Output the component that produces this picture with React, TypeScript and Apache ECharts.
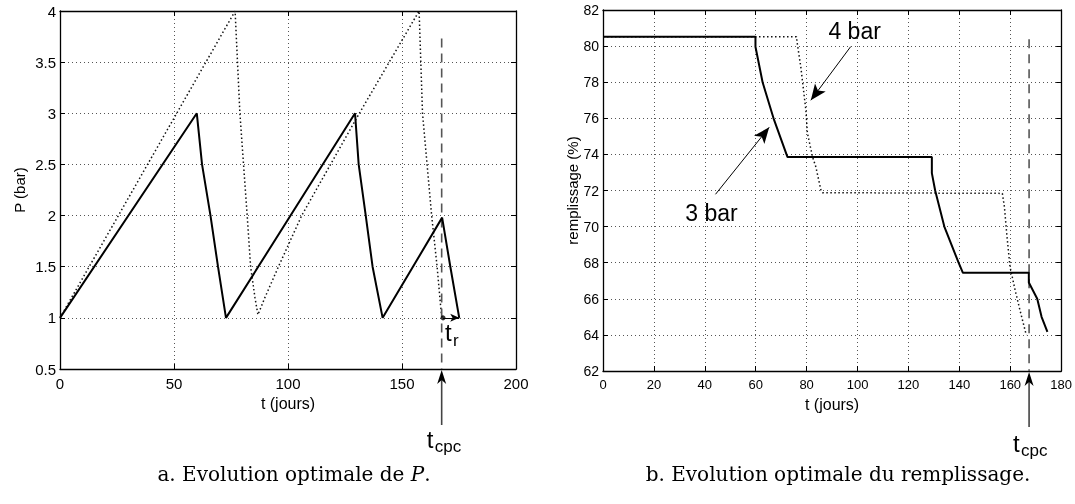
import React, { useEffect, useRef } from 'react';
import * as echarts from 'echarts';

// ---- Data ----
const T_CPC = 167.4;

// Left plot: pressure P (bar) vs t (jours)
const pSolidT = [0, 60, 62.3, 66, 69.3, 72.8, 129.4, 131, 134.1, 137.1, 141.5, 167.6, 171.2, 175.1];
const pSolidV = [1, 3, 2.5, 2, 1.5, 1, 3, 2.5, 2, 1.5, 1, 1.98, 1.5, 1];
const pDotT = [0, 76.8, 78.9, 82.1, 83.6, 85.5, 86.8, 89.9, 95.8, 106, 131.3, 157.5, 159, 163, 165.4, 167, 167.5];
const pDotV = [1, 4, 3, 2, 1.5, 1.2, 1.03, 1.2, 1.5, 2, 3, 4, 3, 2, 1.5, 1.1, 1.0];
const pDashT = [T_CPC, T_CPC];
const pDashV = [3.73, 0.5];

// Right plot: remplissage (%) vs t (jours)
const rSolidT = [0, 59.9, 59.9, 62.7, 67, 72.1, 72.5, 129.2, 129.2, 130.5, 134.1, 139.7, 141.4, 167.3, 167.3, 170.6, 172.3, 174.6];
const rSolidV = [80.52, 80.52, 79.96, 78, 76, 74, 73.85, 73.85, 72.96, 72, 70, 68, 67.44, 67.44, 66.9, 66, 65, 64.17];
const rDotT = [0, 76, 76.3, 77.7, 79.7, 80.3, 82.3, 83.6, 85.6, 86.2, 156.9, 157.7, 158.6, 159.9, 161.9, 163.8, 165.8, 166.3];
const rDotV = [80.52, 80.52, 80.17, 78.86, 76.46, 75.19, 73.87, 73.32, 72.03, 71.88, 71.84, 71.1, 69.63, 67.78, 66.49, 65.38, 64.27, 63.99];
const rDashT = [T_CPC, T_CPC];
const rDashV = [80.38, 62];

// Annotation arrows [fromT, fromV, toT, toV]
const arrow4bar = [97.3, 79.97, 81.65, 77.0];
const arrow3bar = [44.2, 71.79, 65.3, 75.5];
const arrowTr = [168.0, 1.0, 175.1, 1.0];

const zip = (a: number[], b: number[]) => a.map((v, i) => [v, b[i]]);

const FONT = 'Liberation Sans, Arial, Helvetica, sans-serif';
const SERIF = 'DejaVu Serif, serif';

export default function App() {
  const ref = useRef<HTMLDivElement>(null);
  useEffect(() => {
    document.body.style.margin = '0';
    const chart = echarts.init(ref.current!, null, { renderer: 'svg' });
    const split = { show: true, lineStyle: { type: [1, 3], color: '#555', width: 1 } };
    const axLine = { show: true, onZero: false, lineStyle: { color: '#000', width: 1.3 } };
    const tick = (inside = true) => ({ show: true, inside, length: 5, lineStyle: { color: '#000', width: 1 } });

    const mkX = (grid: number, min: number, max: number, interval: number, fs: number, gap: number) => [
      {
        type: 'value', gridIndex: grid, min, max, interval, position: 'bottom',
        axisLine: axLine, axisTick: tick(), splitLine: split,
        axisLabel: { color: '#000', fontFamily: FONT, fontSize: fs, margin: 7 },
        name: 't (jours)', nameLocation: 'middle', nameGap: gap,
        nameTextStyle: { color: '#000', fontFamily: FONT, fontSize: 16 },
      },
      {
        type: 'value', gridIndex: grid, min, max, interval, position: 'top',
        axisLine: axLine, axisTick: tick(), splitLine: { show: false }, axisLabel: { show: false },
      },
    ];
    const mkY = (grid: number, min: number, max: number, interval: number, fs: number, name: string, gap: number) => [
      {
        type: 'value', gridIndex: grid, min, max, interval, position: 'left',
        axisLine: axLine, axisTick: tick(), splitLine: split,
        axisLabel: { color: '#000', fontFamily: FONT, fontSize: fs, margin: 4 },
        name, nameLocation: 'middle', nameGap: gap,
        nameTextStyle: { color: '#000', fontFamily: FONT, fontSize: 15 },
      },
      {
        type: 'value', gridIndex: grid, min, max, interval, position: 'right',
        axisLine: axLine, axisTick: tick(), splitLine: { show: false }, axisLabel: { show: false },
      },
    ];

    const arrowML = (arr: number[], size: number[]) => ({
      silent: true,
      symbol: ['none', 'arrow'],
      symbolSize: size,
      label: { show: false },
      lineStyle: { color: '#000', width: 1, type: 'solid' },
      emphasis: { disabled: true },
      data: [[{ coord: [arr[0], arr[1]] }, { coord: [arr[2], arr[3]] }]],
    });

    const solid = { color: '#000', width: 2 };
    const dotted = { color: '#111', width: 1.5, type: [1.5, 2.5] };
    const dashed = { color: '#555', width: 1.6, type: [9, 6] };

    chart.setOption({
      animation: false,
      grid: [
        { left: 60, top: 11, width: 456, height: 358 },
        { left: 603, top: 10, width: 460, height: 361 },
      ],
      xAxis: [...mkX(0, 0, 200, 50, 15, 26), ...mkX(1, 0, 180, 20, 13, 25)],
      yAxis: [...mkY(0, 0.5, 4, 0.5, 15, 'P (bar)', 33), ...mkY(1, 62, 82, 2, 14, 'remplissage (%)', 23)],
      series: [
        {
          type: 'line', xAxisIndex: 0, yAxisIndex: 0, data: zip(pSolidT, pSolidV),
          showSymbol: false, symbol: 'none', lineStyle: solid, itemStyle: { color: '#000' }, z: 5,
          markLine: arrowML(arrowTr, [6, 9]),
        },
        {
          type: 'line', xAxisIndex: 0, yAxisIndex: 0, data: zip(pDotT, pDotV),
          showSymbol: false, symbol: 'none', lineStyle: dotted, itemStyle: { color: '#111' }, z: 3,
        },
        {
          type: 'line', xAxisIndex: 0, yAxisIndex: 0, data: zip(pDashT, pDashV),
          showSymbol: false, symbol: 'none', lineStyle: dashed, itemStyle: { color: '#555' }, z: 4,
        },
        {
          type: 'scatter', xAxisIndex: 0, yAxisIndex: 0, data: [[arrowTr[0], arrowTr[1]]],
          symbolSize: 5, itemStyle: { color: '#000' }, z: 6,
        },
        {
          type: 'line', xAxisIndex: 2, yAxisIndex: 2, data: zip(rSolidT, rSolidV),
          showSymbol: false, symbol: 'none', lineStyle: solid, itemStyle: { color: '#000' }, z: 5,
          markLine: {
            ...arrowML(arrow4bar, [10, 16]),
            data: [
              [{ coord: [arrow4bar[0], arrow4bar[1]] }, { coord: [arrow4bar[2], arrow4bar[3]] }],
              [{ coord: [arrow3bar[0], arrow3bar[1]] }, { coord: [arrow3bar[2], arrow3bar[3]] }],
            ],
          },
        },
        {
          type: 'line', xAxisIndex: 2, yAxisIndex: 2, data: zip(rDotT, rDotV),
          showSymbol: false, symbol: 'none', lineStyle: dotted, itemStyle: { color: '#111' }, z: 3,
        },
        {
          type: 'line', xAxisIndex: 2, yAxisIndex: 2, data: zip(rDashT, rDashV),
          showSymbol: false, symbol: 'none', lineStyle: dashed, itemStyle: { color: '#555' }, z: 4,
        },
      ],
    });

    const pa = chart.convertToPixel({ seriesIndex: 0 }, [T_CPC, 0.5]) as number[];
    const pb = chart.convertToPixel({ seriesIndex: 4 }, [T_CPC, 62]) as number[];
    const pr = chart.convertToPixel({ seriesIndex: 0 }, [arrowTr[0], arrowTr[1]]) as number[];
    const p4 = chart.convertToPixel({ seriesIndex: 4 }, [arrow4bar[0], arrow4bar[1]]) as number[];
    const p3 = chart.convertToPixel({ seriesIndex: 4 }, [arrow3bar[0], arrow3bar[1]]) as number[];

    const upArrow = (x: number, y: number) => [
      { type: 'line', shape: { x1: x, y1: y + 10, x2: x, y2: y + 56 }, style: { stroke: '#444', lineWidth: 1.6 } },
      {
        type: 'polygon',
        shape: { points: [[x, y + 1], [x - 4.5, y + 15], [x, y + 11], [x + 4.5, y + 15]] },
        style: { fill: '#000' },
      },
    ];
    const tSub = (x: number, yT: number, yS: number, sub: string) => [
      { type: 'text', x, y: yT, style: { text: 't', fontFamily: FONT, fontSize: 24, fill: '#000', align: 'left', verticalAlign: 'top' } },
      { type: 'text', x: x + 8, y: yS, style: { text: sub, fontFamily: FONT, fontSize: 17, fill: '#000', align: 'left', verticalAlign: 'top' } },
    ];

    chart.setOption({
      graphic: [
        ...upArrow(pa[0], pa[1]),
        ...upArrow(pb[0], pb[1]),
        ...tSub(pa[0] - 15, pa[1] + 58, pa[1] + 69, 'cpc'),
        ...tSub(pb[0] - 16, pb[1] + 60, pb[1] + 71, 'cpc'),
        ...tSub(pr[0] + 2, pr[1] + 3, pr[1] + 14, 'r'),
        {
          type: 'text', x: p4[0] + 4, y: p4[1] - 16,
          style: { text: '4 bar', fontFamily: FONT, fontSize: 23, fill: '#000', align: 'center', verticalAlign: 'middle' },
        },
        {
          type: 'text', x: p3[0] - 4, y: p3[1] + 19,
          style: { text: '3 bar', fontFamily: FONT, fontSize: 23, fill: '#000', align: 'center', verticalAlign: 'middle' },
        },
        {
          type: 'text', x: 294, y: 474,
          style: {
            text: '{n|a. Evolution optimale de }{i|P}{n|.}',
            align: 'center', verticalAlign: 'middle',
            rich: {
              n: { fontFamily: SERIF, fontSize: 20, fill: '#000' },
              i: { fontFamily: SERIF, fontSize: 20, fontStyle: 'italic', fill: '#000' },
            },
          },
        },
        {
          type: 'text', x: 838, y: 474,
          style: {
            text: 'b. Evolution optimale du remplissage.',
            fontFamily: SERIF, fontSize: 20, fill: '#000', align: 'center', verticalAlign: 'middle',
          },
        },
      ],
    });

    return () => chart.dispose();
  }, []);
  return <div ref={ref} style={{ position: 'fixed', left: 0, top: 0, width: 1075, height: 504 }} />;
}
